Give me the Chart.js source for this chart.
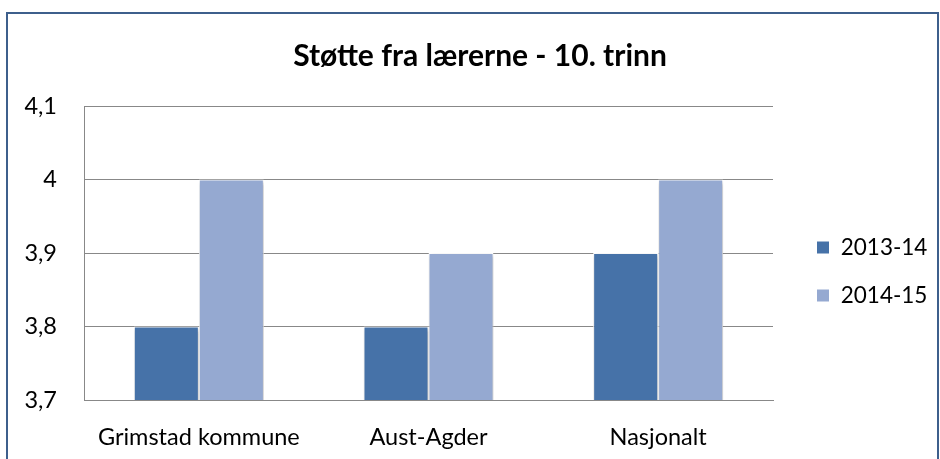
<!DOCTYPE html>
<html><head><meta charset="utf-8">
<script src="https://cdn.jsdelivr.net/npm/chart.js@4"></script>
<style>
html,body{margin:0;padding:0;background:#fff;}
#wrap{position:absolute;left:0;top:0;width:940px;height:459px;}
#frame{position:absolute;left:6px;top:12px;width:929px;height:460px;border:2px solid #3d5f8c;pointer-events:none;}
</style></head>
<body>
<div id="wrap"><canvas id="c" width="940" height="459"></canvas></div>
<div id="frame"></div>
<script>
const categories = ["Grimstad kommune", "Aust-Agder", "Nasjonalt"];
const seriesNames = ["2013-14", "2014-15"];
const values2013 = [3.8, 3.8, 3.9];
const values2014 = [4.0, 3.9, 4.0];
const yTicks = [3.7, 3.8, 3.9, 4.0, 4.1];

const FONT = "Lato, 'Open Sans', sans-serif";
const FS = 23.5;

const shadowPlugin = {
  id: 'barShadow',
  beforeDatasetsDraw(chart){ const c=chart.ctx; c.save(); c.shadowColor='rgba(0,0,0,0.28)'; c.shadowBlur=4; c.shadowOffsetX=1; c.shadowOffsetY=2; },
  afterDatasetsDraw(chart){ chart.ctx.restore(); }
};

const legendPlace = {
  id: 'legendPlace',
  afterInit(chart){
    const lg = chart.legend;
    const orig = lg.fit;
    lg.fit = function(){ orig.call(this); this.width = 167; };
  },
  afterLayout(chart){
    const lg = chart.legend;
    lg.left += 18; lg.right += 18;
    lg.top += 42; lg.bottom += 42;
    const tb = chart.titleBlock;
    if (tb) { tb.left += 20; }
  }
};

new Chart(document.getElementById('c'), {
  type: 'bar',
  data: {
    labels: categories,
    datasets: [
      { label: seriesNames[0], data: values2013, backgroundColor: '#4672a8', borderColor: '#ffffff', borderWidth: 1 },
      { label: seriesNames[1], data: values2014, backgroundColor: '#95a9d1', borderColor: '#ffffff', borderWidth: 1 }
    ]
  },
  plugins: [shadowPlugin, legendPlace],
  options: {
    responsive: false,
    animation: false,
    layout: { padding: 0 },
    datasets: { bar: { categoryPercentage: 0.566, barPercentage: 1.0 } },
    plugins: {
      title: { display: true, text: 'Støtte fra lærerne - 10. trinn', color: '#000', font: { family: FONT, size: 30, weight: 'bold' }, padding: { top: 38, bottom: 32 } },
      legend: {
        position: 'right',
        labels: { color: '#000', font: { family: FONT, size: 22.5 }, boxWidth: 13, boxHeight: 13, padding: 25.5 }
      },
      tooltip: { enabled: false }
    },
    scales: {
      x: {
        afterFit(axis){ axis.height = 59; },
        grid: { display: false },
        border: { color: '#888888', width: 1 },
        ticks: { color: '#000', font: { family: FONT, size: FS }, padding: 15 }
      },
      y: {
        min: 3.7, max: 4.1,
        afterFit(axis){ axis.width = 84; },
        afterBuildTicks(axis){ axis.ticks = yTicks.map(v => ({ value: v })); },
        grid: { color: '#888888', lineWidth: 1, drawTicks: false },
        border: { color: '#888888', width: 1 },
        ticks: { color: '#000', font: { family: FONT, size: FS }, padding: 27,
          callback: v => String(Number(v.toFixed(1))).replace('.', ',') }
      }
    }
  }
});
</script>
</body></html>
